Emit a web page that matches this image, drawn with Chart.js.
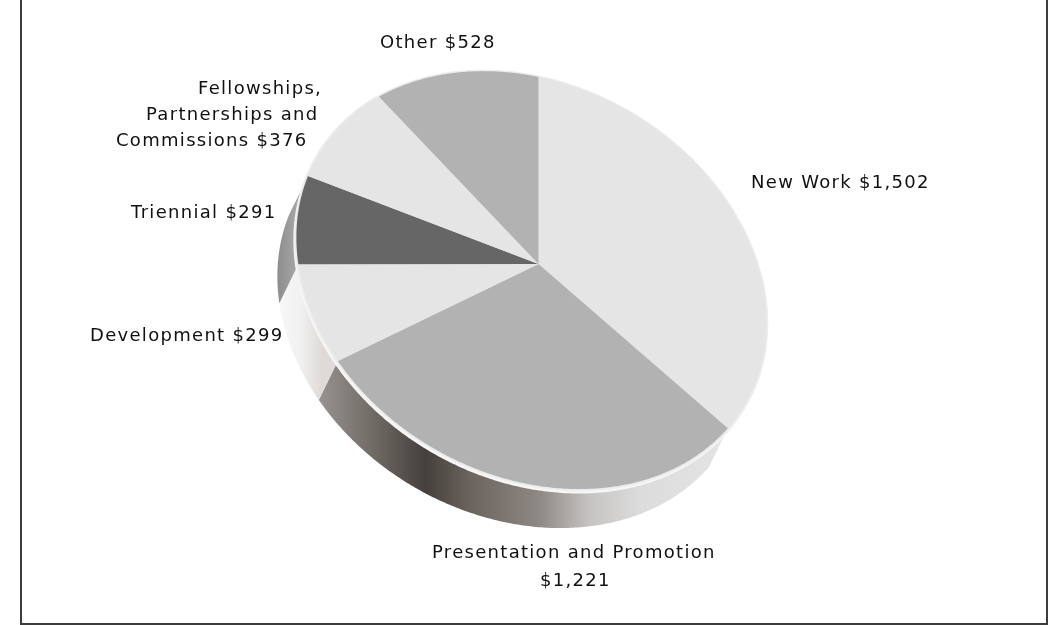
<!DOCTYPE html>
<html>
<head>
<meta charset="utf-8">
<script src="https://cdn.jsdelivr.net/npm/chart.js@4"></script>
<style>
    html, body { margin: 0; padding: 0; background: #fff; overflow: hidden; }
    #wrap { position: relative; width: 1052px; height: 625px; }
    #frame { position: absolute; left: 20px; top: 0; width: 1024px; height: 623px;
             border: 2px solid #3c3c3c; border-top: none; }
    canvas { position: absolute; left: 0; top: 0; display: block; }
</style>
</head>
<body>
<div id="wrap">
    <div id="frame"></div>
    <canvas id="pie" width="1052" height="625"></canvas>
</div>
<script>
const categories = ['New Work', 'Presentation and Promotion', 'Development', 'Triennial', 'Fellowships, Partnerships and Commissions', 'Other'];
const values = [1502, 1221, 299, 291, 376, 528];
const faceColors = ['#e5e5e5', '#b2b2b2', '#e5e5e5', '#666666', '#e5e5e5', '#b2b2b2'];

// side wall shading of each slice, as [screen x, colour]; empty when the wall is out of sight
const wallShades = [
    [],
    [[318, '#98938f'], [370, '#736d68'], [425, '#45403c'], [470, '#6a635e'], [540, '#8f8985'], [590, '#c6c4c2'], [640, '#dcdcdc'], [730, '#e4e4e4']],
    [[279, '#f7f7f7'], [300, '#f2f1f1'], [322, '#dedad8']],
    [[279, '#8f8f8f'], [305, '#b0b0b0']],
    [],
    []
];

// each label line as it sits on the page
const labelLines = [
    { text: 'New Work $1,502', x: 751, y: 183 },
    { text: 'Presentation and Promotion', x: 432, y: 553 },
    { text: '$1,221', x: 540, y: 581 },
    { text: 'Development $299', x: 90, y: 336 },
    { text: 'Triennial $291', x: 131, y: 213 },
    { text: 'Fellowships,', x: 198, y: 89 },
    { text: 'Partnerships and', x: 146, y: 115 },
    { text: 'Commissions $376', x: 116, y: 141 },
    { text: 'Other $528', x: 380, y: 43 }
];

// perspective view of the pie disc
const view = { cx: 538.5, cy: 264, a: 234, c: 43, d: 203, g: 0.03, h: -0.085, depthX: -19, depthY: 39 };

function project(angle, r) {
    const u = Math.cos(angle) * r;
    const v = Math.sin(angle) * r;
    const w = 1 + view.g * u + view.h * v;
    return { x: view.cx + view.a * u / w, y: view.cy + (view.c * u + view.d * v) / w };
}

function edgePoints(start, end, r) {
    const steps = Math.max(2, Math.ceil((end - start) / 0.01));
    const pts = [];
    for (let i = 0; i <= steps; i++) {
        pts.push(project(start + (end - start) * i / steps, r));
    }
    return pts;
}

function tracePath(ctx, pts) {
    ctx.beginPath();
    pts.forEach((p, i) => i ? ctx.lineTo(p.x, p.y) : ctx.moveTo(p.x, p.y));
    ctx.closePath();
}

function wallFill(ctx, shades) {
    const x0 = shades[0][0];
    const x1 = shades[shades.length - 1][0];
    const grad = ctx.createLinearGradient(x0, 0, x1, 0);
    shades.forEach(s => grad.addColorStop((s[0] - x0) / (x1 - x0), s[1]));
    return grad;
}

// draws the library's arcs as a tilted 3D disc
const tiltedPie = {
    id: 'tiltedPie',
    beforeDatasetsDraw(chart) {
        const ctx = chart.ctx;
        const arcs = chart.getDatasetMeta(0).data;
        ctx.save();

        arcs.forEach((arc, i) => {
            if (!wallShades[i].length) return;
            const top = edgePoints(arc.startAngle, arc.endAngle, 1);
            const bottom = top.map(p => ({ x: p.x + view.depthX, y: p.y + view.depthY })).reverse();
            tracePath(ctx, top.concat(bottom));
            ctx.fillStyle = wallFill(ctx, wallShades[i]);
            ctx.fill();
        });

        // pale lip round the top face
        const first = arcs[0].startAngle;
        const lip = edgePoints(first, first + Math.PI * 2, 1.008).map(p => ({ x: p.x - 1, y: p.y + 2.5 }));
        tracePath(ctx, lip);
        ctx.fillStyle = '#f6f6f6';
        ctx.fill();
        tracePath(ctx, edgePoints(first, first + Math.PI * 2, 1.008));
        ctx.fillStyle = '#ececec';
        ctx.fill();

        arcs.forEach((arc, i) => {
            const pts = edgePoints(arc.startAngle, arc.endAngle, 1);
            pts.unshift({ x: view.cx, y: view.cy });
            tracePath(ctx, pts);
            ctx.fillStyle = faceColors[i];
            ctx.fill();
        });

        ctx.restore();
        return false;
    },
    afterDraw(chart) {
        const ctx = chart.ctx;
        ctx.save();
        ctx.font = '18px "DejaVu Sans"';
        ctx.letterSpacing = '1.3px';
        ctx.fillStyle = '#111';
        ctx.textBaseline = 'middle';
        labelLines.forEach(l => ctx.fillText(l.text, l.x, l.y));
        ctx.restore();
    }
};

new Chart(document.getElementById('pie'), {
    type: 'pie',
    data: {
        labels: categories,
        datasets: [{ data: values, backgroundColor: faceColors, borderWidth: 0 }]
    },
    options: {
        responsive: false,
        animation: false,
        plugins: { legend: { display: false }, tooltip: { enabled: false } }
    },
    plugins: [tiltedPie]
});
</script>
</body>
</html>
